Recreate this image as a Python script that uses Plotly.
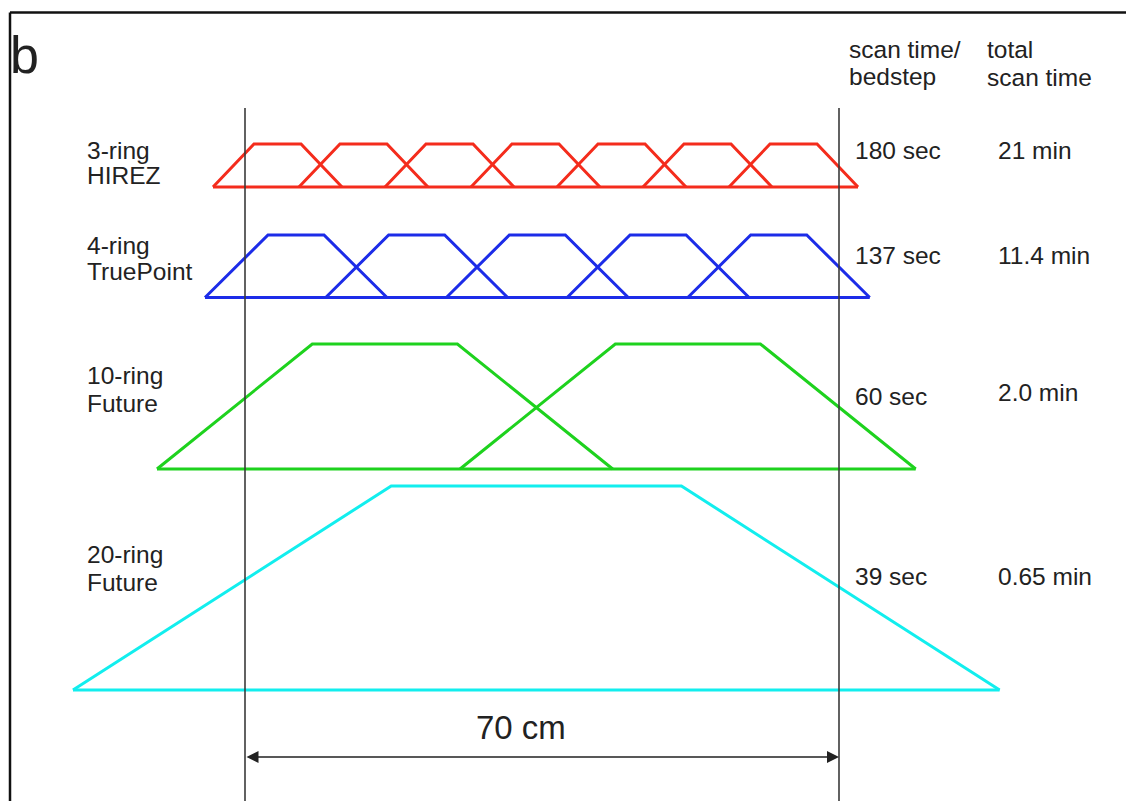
import plotly.graph_objects as go

# ---- data (x in cm, 0 and 70 = the two reference lines; y = row level, screen-like units) ----
row_names = ["3-ring", "4-ring", "10-ring", "20-ring"]
row_subnames = ["HIREZ", "TruePoint", "Future", "Future"]
row_colors = ["#f42c1c", "#1c2ce8", "#1ed21e", "#12eeee"]
scan_per_bedstep = ["180 sec", "137 sec", "60 sec", "39 sec"]
total_scan_time = ["21 min", "11.4 min", "2.0 min", "0.65 min"]

red_starts = [-3.77, 6.36, 16.50, 26.63, 36.77, 46.90, 57.04]
blue_starts = [-4.71, 9.51, 23.73, 37.96, 52.18]
green_starts = [-10.37, 25.34]
cyan_starts = [-20.27]
row_starts = [red_starts, blue_starts, green_starts, cyan_starts]
row_rise = [4.83, 7.42, 18.3, 37.5]       # cm of sensitivity ramp
row_plateau = [5.54, 6.60, 17.1, 34.2]    # cm of flat top
row_base = [187, 297.5, 469, 690]
row_top = [144, 235, 344, 486]

fov_left, fov_right = 0, 70
span_label = "70 cm"

# ---- figure geometry ----
W, H = 1126, 801
PX_PER_CM = 594 / 70.0
X0_PX = 245
x_range = [-X0_PX / PX_PER_CM, (W - X0_PX) / PX_PER_CM]

fig = go.Figure()

for starts, rise, plat, base, top, col in zip(row_starts, row_rise, row_plateau,
                                               row_base, row_top, row_colors):
    xs, ys = [], []
    for s in starts:
        xs += [s, s + rise, s + rise + plat, s + 2 * rise + plat, None]
        ys += [base, top, top, base, None]
    xs += [starts[0], starts[-1] + 2 * rise + plat]
    ys += [base, base]
    fig.add_trace(go.Scatter(x=xs, y=ys, mode="lines",
                             line=dict(color=col, width=3),
                             hoverinfo="skip", showlegend=False))

# reference vertical lines
for xv in (fov_left, fov_right):
    fig.add_shape(type="line", xref="x", yref="y", x0=xv, x1=xv, y0=108, y1=H,
                  line=dict(color="#3a3a3a", width=1.6))

# double-headed dimension arrow
ARROW_Y = 757
fig.add_annotation(x=fov_right, y=ARROW_Y, ax=fov_left, ay=ARROW_Y, axref="x", ayref="y",
                   xref="x", yref="y", text="", showarrow=True, arrowside="end+start",
                   arrowhead=2, startarrowhead=2, arrowsize=1.6, startarrowsize=1.6,
                   arrowwidth=1.5, arrowcolor="#222", standoff=0, startstandoff=0)

FONT = "Arial, Liberation Sans, sans-serif"
TXT = "#222222"
FS = 24.5


def label(text, xpx, ypx, size=FS, anchor="left"):
    fig.add_annotation(x=xpx / W, y=1 - ypx / H, xref="paper", yref="paper",
                       text=text, showarrow=False, xanchor=anchor, yanchor="middle",
                       font=dict(family=FONT, size=size, color=TXT))


label(span_label, 521, 727, size=33, anchor="center")

label("b", 8, 55, size=52)
label("scan time/", 847, 49)
label("bedstep", 847, 76)
label("total", 985, 49)
label("scan time", 985, 77)

name_y = [(150, 176), (246, 272), (375, 403), (554, 582)]
value_y = [150, 255, 396, 576]
for i in range(4):
    label(row_names[i], 85, name_y[i][0])
    label(row_subnames[i], 85, name_y[i][1])
    label(scan_per_bedstep[i], 853, value_y[i])
    label(total_scan_time[i], 996, value_y[i] - (4 if i == 2 else 0))

# frame of the panel (top and left edge)
fig.add_shape(type="line", xref="paper", yref="paper", x0=10 / W, x1=1, y0=1 - 12.5 / H, y1=1 - 12.5 / H,
              line=dict(color="#111", width=2.5))
fig.add_shape(type="line", xref="paper", yref="paper", x0=10 / W, x1=10 / W, y0=0, y1=1 - 12.5 / H,
              line=dict(color="#111", width=2.5))

fig.update_layout(width=W, height=H, margin=dict(l=0, r=0, t=0, b=0),
                  paper_bgcolor="white", plot_bgcolor="white",
                  xaxis=dict(range=x_range, visible=False, fixedrange=True),
                  yaxis=dict(range=[H, 0], visible=False, fixedrange=True))

fig.write_html("out.html", config={"displayModeBar": False},
               post_script="document.body.style.margin='0';document.body.style.overflow='hidden';")
